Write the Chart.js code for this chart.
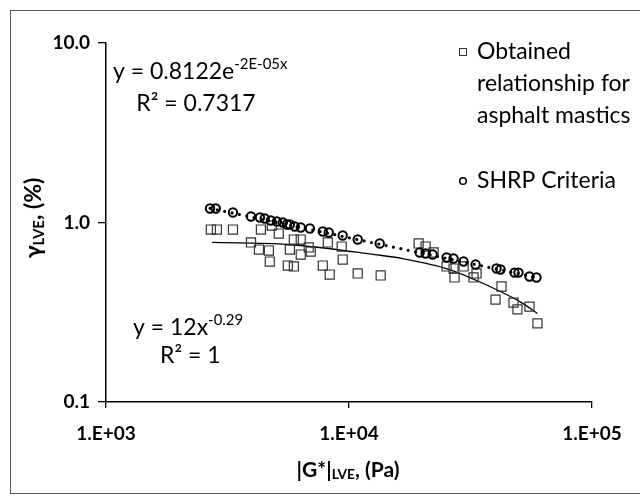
<!DOCTYPE html>
<html lang="en">
<head>
  <meta charset="UTF-8" />
  <title>Strain limit vs |G*|</title>
  <script src="https://cdn.jsdelivr.net/npm/chart.js"></script>
  <style>
    html, body { margin: 0; padding: 0; background: #fff; }
  </style>
</head>
<body>
  <canvas id="chart" width="640" height="504"></canvas>

  <script>
    // values
    const masticG = [2700, 2860, 3330, 4340, 4810, 5140, 3950, 4260, 4680, 4720,
      5710, 5930, 6330, 6830, 6960, 6330, 8180, 9330, 9420, 5600,
      5930, 7800, 8330, 10860, 13500, 19350, 20670, 22290, 25210, 26930,
      27190, 29610, 32550, 33490, 42420, 40090, 47530, 49360, 55290, 59640];
    const masticGamma = [0.914, 0.914, 0.914, 0.914, 0.962, 0.868, 0.774, 0.707, 0.698, 0.606,
      0.707, 0.804, 0.804, 0.726, 0.689, 0.663, 0.774, 0.735, 0.622, 0.576,
      0.569, 0.576, 0.513, 0.520, 0.507, 0.764, 0.735, 0.681, 0.569, 0.554,
      0.494, 0.569, 0.494, 0.520, 0.440, 0.372, 0.358, 0.328, 0.340, 0.274];

    const shrpG = [2680, 2830, 3330, 3950, 4300, 4500, 4770, 5050, 5340, 5550,
      5710, 5980, 6330, 6900, 7800, 8250, 9420, 10860, 13380, 19530,
      20670, 22080, 25210, 26930, 29610, 33180, 40470, 42030, 47980, 49830,
      55290, 59080];
    const shrpGamma = [1.197, 1.197, 1.137, 1.080, 1.066, 1.052, 1.026, 1.013, 1.0, 0.975,
      0.975, 0.950, 0.938, 0.926, 0.891, 0.880, 0.846, 0.804, 0.764, 0.681,
      0.672, 0.663, 0.638, 0.630, 0.606, 0.583, 0.554, 0.547, 0.526, 0.526,
      0.500, 0.494];

    // trend lines
    const expTrendG = [2730, 5600, 12750, 16620, 25940, 37160, 51280, 59640];
    const expTrendGamma = [0.774, 0.754, 0.663, 0.630, 0.547, 0.446, 0.358, 0.311];
    const powTrendG = [2680, 59080];
    const powTrendGamma = [1.2, 0.494];

    const xTicks = [1e3, 1e4, 1e5];
    const yTicks = [0.1, 1, 10];

    const pts = (xs, ys) => xs.map((x, i) => ({ x: x, y: ys[i] }));
    const FONT = 'Lato, "Open Sans", sans-serif';

    // draws a string made of normal / sup / sub pieces
    function richText(ctx, parts, x, y, size, weight, align) {
      const widths = parts.map(p => {
        ctx.font = weight + ' ' + (p.sup || p.sub ? size * 0.65 : size) + 'px ' + FONT;
        return ctx.measureText(p.t).width;
      });
      const total = widths.reduce((a, b) => a + b, 0);
      let cx = align === 'center' ? x - total / 2 : x;
      parts.forEach((p, i) => {
        ctx.font = weight + ' ' + (p.sup || p.sub ? size * 0.65 : size) + 'px ' + FONT;
        let dy = 0;
        if (p.sup) dy = -size * 0.36;
        if (p.sub) dy = size * 0.22;
        ctx.fillText(p.t, cx, y + dy);
        cx += widths[i];
      });
    }

    const overlay = {
      id: 'overlay',
      afterDraw(chart) {
        const ctx = chart.ctx;
        ctx.save();
        // chart frame (left edge visible, right edge runs off the picture)
        ctx.strokeStyle = '#595959';
        ctx.lineWidth = 1;
        ctx.strokeRect(10.5, 10.5, 640, 483);

        ctx.fillStyle = '#000';
        ctx.textBaseline = 'middle';
        ctx.textAlign = 'left';

        // trend line equations
        richText(ctx, [{ t: 'y = 0.8122e' }, { t: '-2E-05x', sup: true }], 113, 72, 23, 'normal', 'left');
        richText(ctx, [{ t: 'R² = 0.7317' }], 196, 104, 23, 'normal', 'center');
        richText(ctx, [{ t: 'y = 12x' }, { t: '-0.29', sup: true }], 133, 328, 23, 'normal', 'left');
        richText(ctx, [{ t: 'R² = 1' }], 160, 356, 23, 'normal', 'left');

        // legend
        ctx.font = '23px ' + FONT;
        ['Obtained', 'relationship for', 'asphalt mastics'].forEach((s, i) => {
          ctx.fillText(s, 477, 52 + i * 32);
        });
        ctx.fillText('SHRP Criteria', 477, 181);
        ctx.strokeStyle = '#333';
        ctx.lineWidth = 1;
        ctx.strokeRect(459.5, 48.5, 7, 7);
        ctx.strokeStyle = '#000';
        ctx.lineWidth = 1.5;
        ctx.beginPath();
        ctx.arc(463, 181, 3.3, 0, Math.PI * 2);
        ctx.stroke();

        // axis titles
        richText(ctx, [{ t: '|G*|' }, { t: 'LVE', sub: true }, { t: ', (Pa)' }], 348, 470, 21, 'bold', 'center');
        ctx.translate(34, 218);
        ctx.rotate(-Math.PI / 2);
        richText(ctx, [{ t: 'γ' }, { t: 'LVE', sub: true }, { t: ', (%)' }], 0, 0, 23, 'bold', 'center');
        ctx.restore();
      }
    };

    const ctx = document.getElementById('chart').getContext('2d');
    new Chart(ctx, {
      type: 'scatter',
      data: {
        datasets: [
          {
            label: 'SHRP trend',
            data: pts(powTrendG, powTrendGamma),
            showLine: true,
            pointRadius: 0,
            borderColor: '#000',
            borderWidth: 3.2,
            borderDash: [0, 7.5],
            borderCapStyle: 'round',
            order: 0
          },
          {
            label: 'SHRP Criteria',
            data: pts(shrpG, shrpGamma),
            pointStyle: 'circle',
            pointRadius: 4.2,
            borderColor: '#000',
            borderWidth: 2,
            backgroundColor: 'rgba(0,0,0,0)',
            order: 1
          },
          {
            label: 'Obtained relationship for asphalt mastics',
            data: pts(masticG, masticGamma),
            pointStyle: 'rect',
            pointRadius: 6.4,
            borderColor: '#333',
            borderWidth: 1.2,
            backgroundColor: 'rgba(0,0,0,0)',
            order: 2
          },
          {
            label: 'Mastic trend',
            data: pts(expTrendG, expTrendGamma),
            showLine: true,
            pointRadius: 0,
            borderColor: '#000',
            borderWidth: 1.3,
            cubicInterpolationMode: 'monotone',
            order: 3
          }
        ]
      },
      options: {
        responsive: false,
        animation: false,
        layout: { padding: { top: 43, right: 48, left: 0, bottom: 0 } },
        plugins: {
          legend: { display: false },
          tooltip: { enabled: false }
        },
        scales: {
          x: {
            type: 'logarithmic',
            min: 1000,
            max: 100000,
            afterBuildTicks: s => { s.ticks = xTicks.map(v => ({ value: v })); },
            afterFit: s => { s.height = 102; },
            ticks: {
              color: '#000',
              padding: 14,
              maxRotation: 0,
              font: { family: FONT, size: 19, weight: 'bold' },
              callback: v => '1.E+' + String(Math.round(Math.log10(v))).padStart(2, '0')
            },
            grid: { drawOnChartArea: false, drawTicks: true, tickLength: 6, color: '#000', lineWidth: 1.3 },
            border: { display: true, color: '#000', width: 1.5 }
          },
          y: {
            type: 'logarithmic',
            min: 0.1,
            max: 10,
            afterBuildTicks: s => { s.ticks = yTicks.map(v => ({ value: v })); },
            afterFit: s => { s.width = 106; },
            ticks: {
              color: '#000',
              padding: 8,
              font: { family: FONT, size: 19, weight: 'bold' },
              callback: v => Number(v).toFixed(1)
            },
            grid: { drawOnChartArea: false, drawTicks: true, tickLength: 8, color: '#000', lineWidth: 1.3 },
            border: { display: true, color: '#000', width: 1.5 }
          }
        }
      },
      plugins: [overlay]
    });
  </script>
</body>
</html>
